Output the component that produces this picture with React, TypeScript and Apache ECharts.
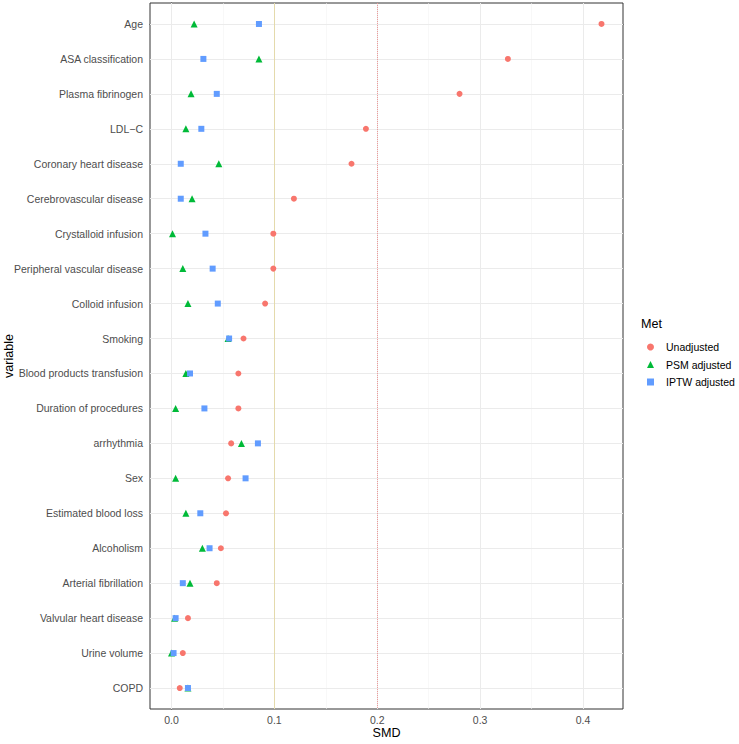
import React, { useEffect, useRef } from "react";
import * as echarts from "echarts";

const categories = [
  "Age",
  "ASA classification",
  "Plasma fibrinogen",
  "LDL−C",
  "Coronary heart disease",
  "Cerebrovascular disease",
  "Crystalloid infusion",
  "Peripheral vascular disease",
  "Colloid infusion",
  "Smoking",
  "Blood products transfusion",
  "Duration of procedures",
  "arrhythmia",
  "Sex",
  "Estimated blood loss",
  "Alcoholism",
  "Arterial fibrillation",
  "Valvular heart disease",
  "Urine volume",
  "COPD",
];

const unadjusted = [0.418, 0.327, 0.280, 0.189, 0.175, 0.119, 0.099, 0.099, 0.091, 0.070, 0.065, 0.065, 0.058, 0.055, 0.053, 0.048, 0.044, 0.016, 0.011, 0.008];
const psmAdjusted = [0.022, 0.085, 0.019, 0.014, 0.046, 0.020, 0.001, 0.011, 0.016, 0.055, 0.014, 0.004, 0.068, 0.004, 0.014, 0.030, 0.018, 0.003, 0.000, 0.016];
const iptwAdjusted = [0.085, 0.031, 0.044, 0.029, 0.009, 0.009, 0.033, 0.040, 0.045, 0.056, 0.018, 0.032, 0.084, 0.072, 0.028, 0.037, 0.011, 0.004, 0.002, 0.016];

const xTicks = [0, 0.1, 0.2, 0.3, 0.4];
const xMinorTicks = [0.05, 0.15, 0.25, 0.35];
const refLine1 = 0.1;
const refLine2 = 0.2;

const seriesNames = ["Unadjusted", "PSM adjusted", "IPTW adjusted"];
const seriesColors = ["#F8766D", "#00BA38", "#619CFF"];

export default function App() {
  const ref = useRef<HTMLDivElement>(null);

  useEffect(() => {
    if (!ref.current) return;
    const chart = echarts.init(ref.current, undefined, { renderer: "svg" });

    const all = [...unadjusted, ...psmAdjusted, ...iptwAdjusted];
    const dMin = Math.min(...all);
    const dMax = Math.max(...all);
    const pad = (dMax - dMin) * 0.05;
    const font = "'Liberation Sans', Arial, Helvetica, sans-serif";

    const toData = (arr: number[]) => arr.map((v, i) => [v, i]);
    const yIdx = categories.map((_, i) => i);

    const minorLines = xMinorTicks.map((v) => ({ xAxis: v }));
    const majorLines = [
      ...xTicks.map((v) => ({ xAxis: v })),
      ...yIdx.map((v) => ({ yAxis: v })),
    ];

    const symbols = ["circle", "triangle", "rect"];
    const sizes = [6, 7, 6];
    const values = [unadjusted, psmAdjusted, iptwAdjusted];

    const lineSeries = (name: string, data: any[], lineStyle: any, z: number) => ({
      name,
      type: "scatter",
      data: [],
      z,
      silent: true,
      markLine: {
        silent: true,
        z,
        symbol: ["none", "none"],
        label: { show: false },
        emphasis: { disabled: true },
        animation: false,
        lineStyle,
        data,
      },
    });

    chart.setOption({
      animation: false,
      textStyle: { fontFamily: font },
      grid: {
        left: 150,
        right: 116,
        top: 3,
        bottom: 35,
        containLabel: false,
        outerBoundsMode: "none",
        show: true,
        borderColor: "#333333",
        borderWidth: 1,
        backgroundColor: "#FFFFFF",
      },
      title: {
        text: "Met",
        left: 641,
        top: 317,
        padding: 0,
        textStyle: { fontSize: 12.6, fontWeight: "normal", color: "#000000", fontFamily: font },
      },
      legend: {
        data: seriesNames.map((n, i) => ({ name: n, icon: symbols[i] })),
        orient: "vertical",
        left: 647,
        top: 340,
        padding: 0,
        itemWidth: 7,
        itemHeight: 7,
        itemGap: 3.5,
        selectedMode: false,
        textStyle: {
          fontSize: 10.5,
          color: "#000000",
          fontFamily: font,
          lineHeight: 14,
          padding: [0, 0, 0, 7],
        },
      },
      xAxis: {
        type: "value",
        min: dMin - pad,
        max: dMax + pad,
        name: "SMD",
        nameLocation: "middle",
        nameGap: 17,
        nameMoveOverlap: false,
        nameTextStyle: { fontSize: 12.6, color: "#000000", fontFamily: font },
        axisLine: { show: true, lineStyle: { color: "#333333", width: 1 } },
        axisTick: { show: true, length: 4, customValues: xTicks, lineStyle: { color: "#333333" } },
        axisLabel: {
          customValues: xTicks,
          formatter: (v: number) => v.toFixed(1),
          fontSize: 10.5,
          color: "#4D4D4D",
          margin: 5,
          fontFamily: font,
        },
        splitLine: { show: false },
      },
      yAxis: {
        type: "value",
        inverse: true,
        min: -0.6,
        max: categories.length - 1 + 0.6,
        name: "variable",
        nameLocation: "middle",
        nameRotate: 90,
        nameGap: 135,
        nameMoveOverlap: false,
        nameTextStyle: { fontSize: 12.6, color: "#000000", fontFamily: font },
        axisLine: { show: true, lineStyle: { color: "#333333", width: 1 } },
        axisTick: { show: true, length: 4, customValues: yIdx, lineStyle: { color: "#333333" } },
        axisLabel: {
          customValues: yIdx,
          formatter: (v: number) => categories[Math.round(v)] ?? "",
          fontSize: 10.5,
          color: "#4D4D4D",
          margin: 7,
          fontFamily: font,
        },
        splitLine: { show: false },
      },
      series: [
        lineSeries("__minor", minorLines, { color: "#F3F3F3", width: 0.6, type: "solid" }, 0),
        lineSeries("__major", majorLines, { color: "#EBEBEB", width: 1, type: "solid" }, 1),
        lineSeries("__ref1", [{ xAxis: refLine1 }], { color: "#E4DAAC", width: 1, type: "solid" }, 2),
        lineSeries("__ref2", [{ xAxis: refLine2 }], { color: "#EC9A9A", width: 1, type: "dotted" }, 2),
        ...values.map((arr, i) => ({
          name: seriesNames[i],
          type: "scatter",
          data: toData(arr),
          symbol: symbols[i],
          symbolSize: sizes[i],
          itemStyle: { color: seriesColors[i], opacity: 1 },
          z: 5 + i,
        })),
      ],
    });

    return () => chart.dispose();
  }, []);

  return (
    <div
      ref={ref}
      style={{ position: "absolute", left: 0, top: 0, width: 739, height: 744, background: "#FFFFFF" }}
    />
  );
}
